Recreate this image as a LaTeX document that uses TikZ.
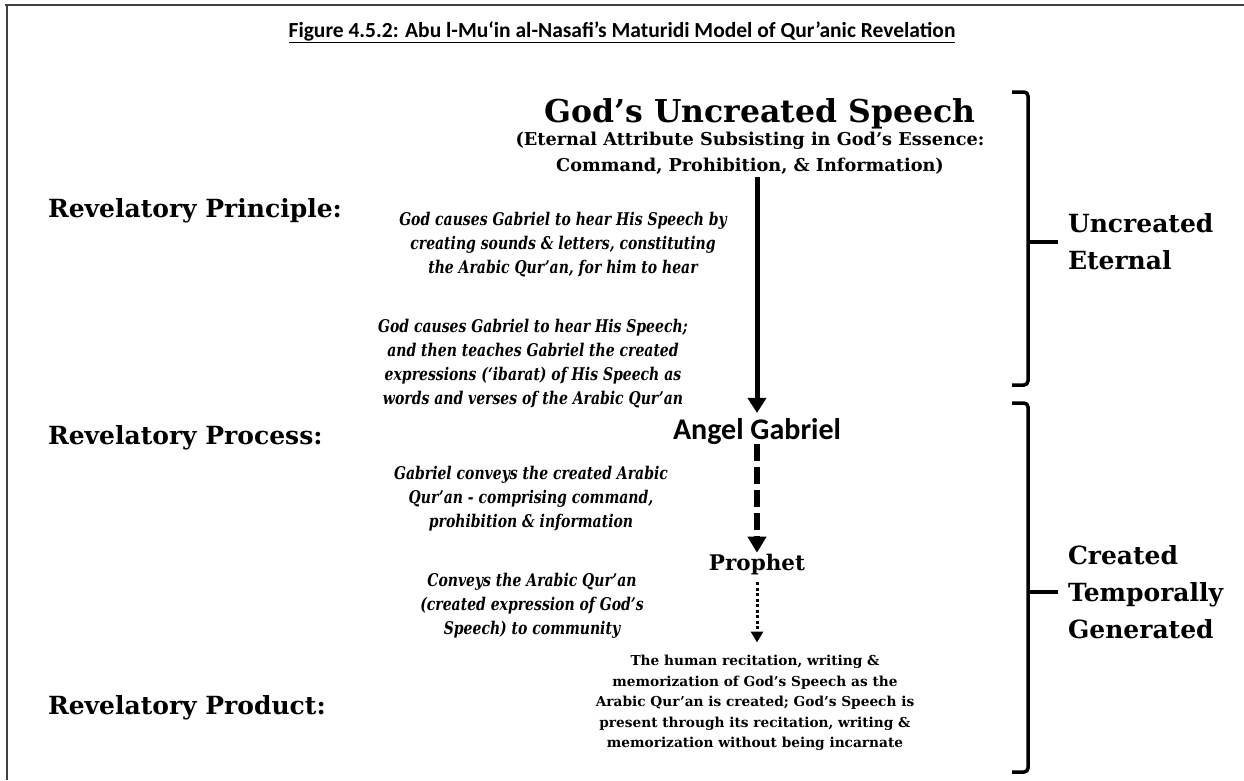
\documentclass[tikz,border=0pt]{standalone}
\usepackage{fontspec}
\newfontfamily\headserif{DejaVu Serif}
\newfontfamily\noteserif[FakeStretch=0.8]{DejaVu Serif}
\newfontfamily\headsans{Carlito}
\usetikzlibrary{arrows.meta}

\tikzset{
  every node/.style={inner sep=0pt, outer sep=0pt},
  frameline/.style={line width=2pt, draw=black!75},
  caption/.style={font=\headsans\bfseries\fontsize{21.5}{26}\selectfont, anchor=base},
  speech/.style={font=\headserif\bfseries\fontsize{31.5}{36}\selectfont, anchor=base},
  attribute/.style={font=\headserif\bfseries\fontsize{17.7}{26}\selectfont, align=center, anchor=north},
  stage/.style={font=\headserif\bfseries\fontsize{25}{30}\selectfont, anchor=base west},
  note/.style={font=\noteserif\bfseries\itshape\fontsize{17.5}{24}\selectfont, align=center, anchor=north},
  agent/.style={font=\headsans\bfseries\fontsize{30}{36}\selectfont, anchor=base},
  prophet/.style={font=\headserif\bfseries\fontsize{21.5}{26}\selectfont, anchor=base},
  product/.style={font=\headserif\bfseries\fontsize{13.7}{20.5}\selectfont, align=center, anchor=north},
  realm/.style={font=\headserif\bfseries\fontsize{25}{37}\selectfont, align=left, anchor=west},
  brace/.style={line width=3.5pt, rounded corners=4pt},
  solidflow/.style={line width=5pt, -{Triangle[width=18pt,length=15pt]}},
  dashflow/.style={line width=5.5pt, dash pattern=on 17pt off 6pt, -{Triangle[width=18pt,length=16pt]}},
  dotflow/.style={line width=3pt, dash pattern=on 3pt off 2.5pt, -{Triangle[width=12pt,length=11pt]}},
}

\begin{document}
\begin{tikzpicture}[x=1pt, y=-1pt]
\useasboundingbox (0,0) rectangle (1244,780);

% page frame (top and left edges)
\draw[frameline] (5,5) -- (1244,5);
\draw[frameline] (7,5) -- (7,780);

% caption
\node[caption] (cap) at (622,37) {\underline{Figure 4.5.2: Abu l-Mu‘in al-Nasafi’s Maturidi Model of Qur’anic Revelation}};

% source of revelation
\node[speech] (speech) at (760,122) {God’s Uncreated Speech};
\node[attribute] (attr) at (750,132.5) {(Eternal Attribute Subsisting in God’s Essence:\\Command, Prohibition, \& Information)};

% stages on the left
\node[stage] (principle) at (48,217) {Revelatory Principle:};
\node[stage] (process) at (48,444) {Revelatory Process:};
\node[stage] (productlab) at (48,714) {Revelatory Product:};

% explanatory notes
\node[note] (n1) at (563,212.5) {God causes Gabriel to hear His Speech by\\creating sounds \& letters, constituting\\the Arabic Qur’an, for him to hear};
\node[note] (n2) at (533,319) {God causes Gabriel to hear His Speech;\\and then teaches Gabriel the created\\expressions (‘ibarat) of His Speech as\\words and verses of the Arabic Qur’an};
\node[note] (n3) at (531,466) {Gabriel conveys the created Arabic\\Qur’an - comprising command,\\prohibition \& information};
\node[note] (n4) at (532,573) {Conveys the Arabic Qur’an\\(created expression of God’s\\Speech) to community};

% chain of transmission
\node[agent] (gabriel) at (757,439) {Angel Gabriel};
\node[prophet] (prophet) at (757,570) {Prophet};
\node[product] (result) at (755,655.5) {The human recitation, writing \&\\memorization of God’s Speech as the\\Arabic Qur’an is created; God’s Speech is\\present through its recitation, writing \&\\memorization without being incarnate};

\draw[solidflow, shorten <=2pt, shorten >=5pt] (attr.south -| gabriel.north) -- (gabriel.north);
\draw[dashflow, shorten >=1pt] (gabriel.south) -- (prophet.north);
\draw[dotflow, shorten <=8pt, shorten >=13pt] (prophet.south) -- (prophet.south |- result.north);

% ontological status brackets
\node[realm] (eternal) at (1068,242) {Uncreated\\Eternal};
\node[realm] (temporal) at (1068,592) {Created\\Temporally\\Generated};

\coordinate (ua) at (1012,92);
\coordinate (ub) at (1012,385);
\coordinate (ca) at (1012,403);
\coordinate (cb) at (1012,772);
\draw[brace] (ua) -- ++(16,0) |- (ub);
\draw[brace] (ca) -- ++(16,0) |- (cb);
\draw[brace, rounded corners=0pt, shorten >=10pt] (1028,0 |- eternal.west) -- (eternal.west);
\draw[brace, rounded corners=0pt, shorten >=10pt] (1028,0 |- temporal.west) -- (temporal.west);
\end{tikzpicture}
\end{document}
